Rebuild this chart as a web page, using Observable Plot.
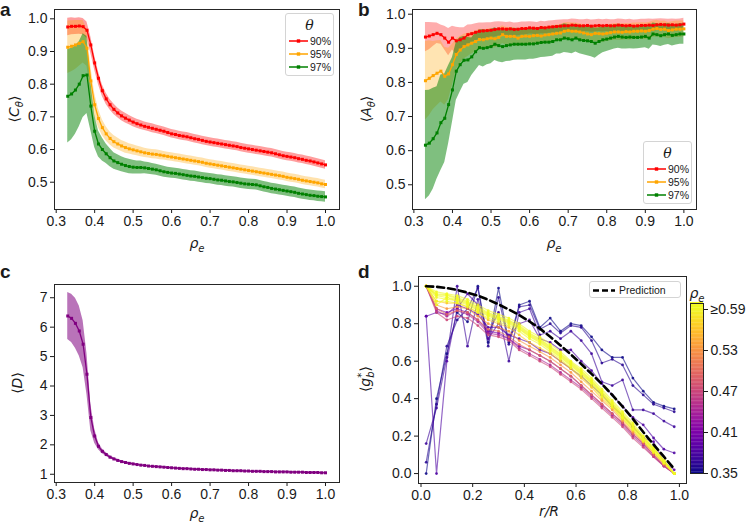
<!DOCTYPE html>
<html><head><meta charset="utf-8">
<script src="https://cdn.jsdelivr.net/npm/d3@7"></script>
<script src="https://cdn.jsdelivr.net/npm/@observablehq/plot@0.6"></script>
<style>
body{margin:0;background:#fff;}
#wrap{position:relative;width:748px;height:524px;overflow:hidden;font-family:"Liberation Sans",Arial,sans-serif;color:#1a1a1a;}
.pl{position:absolute;}
.lbl{position:absolute;font-family:"DejaVu Sans",sans-serif;font-size:14px;white-space:nowrap;transform:translate(-50%,-50%);line-height:1;}
.rot{transform:translate(-50%,-50%) rotate(-90deg);}
.it{font-style:italic;}
.sb{font-size:10px;font-style:italic;position:relative;top:4px;}
.letter{position:absolute;font-weight:bold;font-size:19px;line-height:19px;}
.leg{position:absolute;border:1px solid #d4d4d4;border-radius:3px;background:rgba(255,255,255,0.85);box-sizing:border-box;}
.leg .t{position:absolute;left:0;right:0;text-align:center;font-family:"DejaVu Serif",serif;font-style:italic;font-size:14px;line-height:1;}
.leg .row{position:absolute;left:2px;height:10px;font-size:10.5px;line-height:10px;white-space:nowrap;}
.leg svg{position:absolute;left:0;top:0;}
.leg .row span{position:absolute;left:22px;top:0;}
</style></head>
<body><div id="wrap"></div>
<script>
// ---------------- data ----------------
const rho = [0.33,0.34,0.35,0.36,0.37,0.38,0.39,0.40,0.41,0.42,0.43,0.44,0.45,0.46,0.47,0.48,0.49,0.50,0.51,0.52,
0.53,0.54,0.55,0.56,0.57,0.58,0.59,0.60,0.61,0.62,0.63,0.64,0.65,0.66,0.67,0.68,0.69,0.70,0.71,0.72,
0.73,0.74,0.75,0.76,0.77,0.78,0.79,0.80,0.81,0.82,0.83,0.84,0.85,0.86,0.87,0.88,0.89,0.90,0.91,0.92,
0.93,0.94,0.95,0.96,0.97,0.98,0.99,1.00];
const thetaLabels = ["90%","95%","97%"];

// panel a: <C_theta>
const C90 = [0.975,0.977,0.977,0.978,0.976,0.965,0.920,0.865,0.818,0.780,
0.755,0.737,0.723,0.712,0.703,0.696,0.690,0.684,0.679,0.675,
0.671,0.668,0.665,0.662,0.659,0.656,0.652,0.648,0.646,0.643,
0.641,0.639,0.636,0.633,0.631,0.628,0.625,0.623,0.621,0.619,
0.617,0.615,0.613,0.611,0.609,0.606,0.604,0.602,0.600,0.598,
0.596,0.594,0.592,0.590,0.587,0.584,0.581,0.579,0.577,0.575,
0.572,0.570,0.567,0.565,0.562,0.559,0.556,0.553];
const C90sd = [0.027,0.026,0.025,0.025,0.025,0.025,0.025,0.022,0.020,0.018,
0.017,0.016,0.016,0.015,0.015,0.015,0.014,0.014,0.014,0.014,
0.013,0.013,0.014,0.013,0.013,0.013,0.013,0.013,0.013,0.013,
0.013,0.013,0.013,0.013,0.013,0.013,0.013,0.013,0.013,0.013,
0.013,0.013,0.013,0.013,0.013,0.013,0.013,0.013,0.013,0.013,
0.013,0.013,0.013,0.013,0.013,0.013,0.013,0.013,0.013,0.013,
0.013,0.013,0.013,0.013,0.013,0.013,0.013,0.013];
const C95 = [0.913,0.916,0.920,0.925,0.930,0.910,0.810,0.737,0.695,0.667,
0.648,0.634,0.624,0.617,0.611,0.606,0.602,0.599,0.596,0.593,
0.590,0.588,0.586,0.585,0.583,0.581,0.579,0.577,0.575,0.573,
0.571,0.569,0.567,0.565,0.563,0.561,0.558,0.556,0.554,0.552,
0.550,0.548,0.546,0.544,0.542,0.540,0.538,0.536,0.534,0.532,
0.530,0.528,0.526,0.524,0.522,0.520,0.518,0.515,0.513,0.511,
0.509,0.506,0.504,0.502,0.500,0.498,0.495,0.493];
const C95sd = [0.080,0.078,0.075,0.070,0.065,0.055,0.045,0.035,0.028,0.024,
0.022,0.020,0.019,0.018,0.017,0.017,0.016,0.016,0.015,0.015,
0.014,0.014,0.014,0.014,0.014,0.013,0.013,0.013,0.013,0.013,
0.013,0.013,0.013,0.013,0.013,0.013,0.013,0.013,0.013,0.013,
0.013,0.013,0.013,0.013,0.013,0.013,0.013,0.013,0.013,0.013,
0.013,0.013,0.013,0.013,0.013,0.013,0.013,0.013,0.013,0.013,
0.013,0.013,0.013,0.013,0.013,0.013,0.013,0.013];
const C97 = [0.763,0.770,0.782,0.800,0.826,0.828,0.733,0.656,0.617,0.600,
0.587,0.575,0.565,0.560,0.555,0.551,0.548,0.546,0.545,0.545,
0.544,0.542,0.540,0.538,0.535,0.532,0.530,0.528,0.527,0.525,
0.523,0.521,0.519,0.518,0.516,0.514,0.512,0.511,0.509,0.507,
0.506,0.504,0.502,0.501,0.499,0.497,0.495,0.494,0.493,0.492,
0.489,0.486,0.484,0.481,0.479,0.477,0.475,0.473,0.471,0.469,
0.466,0.464,0.462,0.460,0.459,0.457,0.456,0.455];
const C97sd = [0.143,0.140,0.135,0.130,0.128,0.118,0.075,0.050,0.040,0.035,
0.030,0.028,0.025,0.024,0.023,0.022,0.022,0.021,0.020,0.020,
0.018,0.018,0.017,0.017,0.017,0.017,0.016,0.016,0.016,0.016,
0.016,0.016,0.016,0.016,0.016,0.016,0.016,0.016,0.016,0.016,
0.016,0.016,0.016,0.016,0.016,0.016,0.016,0.016,0.016,0.016,
0.016,0.016,0.016,0.016,0.016,0.016,0.016,0.016,0.016,0.016,
0.016,0.016,0.016,0.016,0.016,0.016,0.016,0.016];

// panel b: <A_theta>
const A90 = [0.933,0.936,0.940,0.944,0.940,0.930,0.918,0.930,0.922,0.925,
0.930,0.940,0.943,0.947,0.950,0.951,0.952,0.953,0.955,0.957,
0.957,0.956,0.957,0.955,0.956,0.958,0.958,0.960,0.959,0.958,
0.961,0.960,0.962,0.963,0.964,0.965,0.966,0.966,0.968,0.967,
0.966,0.966,0.967,0.965,0.966,0.967,0.966,0.967,0.966,0.966,
0.968,0.967,0.966,0.967,0.965,0.966,0.967,0.967,0.968,0.967,
0.969,0.970,0.969,0.968,0.969,0.968,0.969,0.971];
const A90sd = [0.043,0.040,0.035,0.030,0.028,0.035,0.040,0.035,0.040,0.035,
0.030,0.028,0.026,0.025,0.024,0.023,0.023,0.022,0.022,0.021,
0.020,0.020,0.020,0.019,0.019,0.019,0.019,0.018,0.018,0.018,
0.018,0.018,0.018,0.018,0.018,0.018,0.018,0.018,0.018,0.018,
0.018,0.018,0.018,0.018,0.018,0.018,0.018,0.018,0.018,0.018,
0.018,0.018,0.018,0.018,0.018,0.018,0.018,0.018,0.018,0.018,
0.017,0.017,0.017,0.017,0.017,0.017,0.017,0.017];
const A95 = [0.805,0.812,0.820,0.827,0.833,0.818,0.825,0.852,0.882,0.895,
0.905,0.910,0.915,0.920,0.926,0.925,0.928,0.930,0.928,0.932,
0.940,0.935,0.935,0.935,0.930,0.935,0.936,0.935,0.937,0.938,
0.936,0.939,0.940,0.942,0.944,0.945,0.950,0.952,0.950,0.950,
0.948,0.945,0.942,0.940,0.944,0.943,0.942,0.944,0.946,0.948,
0.948,0.947,0.949,0.948,0.950,0.950,0.951,0.950,0.952,0.956,
0.958,0.955,0.956,0.952,0.954,0.956,0.956,0.957];
const A95sd = [0.115,0.110,0.100,0.095,0.090,0.085,0.075,0.060,0.045,0.040,
0.036,0.034,0.032,0.030,0.030,0.029,0.028,0.028,0.027,0.027,
0.026,0.026,0.026,0.025,0.025,0.025,0.025,0.024,0.024,0.024,
0.024,0.024,0.024,0.024,0.024,0.024,0.024,0.024,0.024,0.024,
0.024,0.024,0.024,0.024,0.024,0.024,0.024,0.024,0.024,0.024,
0.024,0.024,0.024,0.024,0.024,0.024,0.024,0.024,0.024,0.024,
0.024,0.024,0.024,0.024,0.024,0.024,0.024,0.024];
const A97 = [0.616,0.622,0.635,0.652,0.682,0.695,0.735,0.778,0.833,0.852,
0.865,0.866,0.875,0.890,0.902,0.900,0.902,0.905,0.912,0.908,
0.905,0.908,0.910,0.912,0.912,0.912,0.912,0.913,0.913,0.915,
0.917,0.918,0.918,0.920,0.925,0.925,0.930,0.928,0.925,0.930,
0.925,0.923,0.922,0.920,0.915,0.920,0.925,0.927,0.930,0.933,
0.935,0.933,0.932,0.933,0.932,0.932,0.933,0.935,0.930,0.942,
0.940,0.937,0.940,0.942,0.938,0.940,0.942,0.942];
const A97sd = [0.160,0.155,0.148,0.135,0.140,0.130,0.115,0.095,0.085,0.080,
0.070,0.066,0.055,0.055,0.052,0.055,0.050,0.050,0.048,0.048,
0.047,0.047,0.048,0.047,0.046,0.046,0.046,0.045,0.045,0.045,
0.044,0.044,0.043,0.043,0.042,0.042,0.042,0.042,0.041,0.041,
0.041,0.042,0.044,0.045,0.044,0.040,0.038,0.036,0.036,0.035,
0.035,0.035,0.034,0.034,0.034,0.033,0.033,0.033,0.033,0.032,
0.032,0.032,0.031,0.031,0.031,0.030,0.030,0.030];

// panel c: <D>
const Dmean = [6.38,6.30,6.13,5.87,5.42,4.40,2.93,2.30,1.95,1.78,
1.67,1.58,1.52,1.47,1.43,1.40,1.37,1.35,1.33,1.31,
1.30,1.28,1.27,1.26,1.25,1.24,1.23,1.22,1.21,1.20,
1.19,1.19,1.18,1.17,1.17,1.16,1.16,1.15,1.15,1.14,
1.14,1.13,1.13,1.12,1.12,1.12,1.11,1.11,1.10,1.10,
1.10,1.09,1.09,1.09,1.08,1.08,1.08,1.08,1.07,1.07,
1.07,1.07,1.06,1.06,1.06,1.06,1.05,1.05];
const Dsd = [0.80,0.82,0.85,0.85,0.80,0.70,0.45,0.25,0.12,0.08,
0.06,0.05,0.04,0.04,0.03,0.03,0.03,0.03,0.02,0.02,
0.02,0.02,0.02,0.02,0.02,0.02,0.02,0.02,0.02,0.02,
0.02,0.02,0.02,0.02,0.02,0.02,0.02,0.02,0.02,0.02,
0.02,0.02,0.02,0.02,0.02,0.02,0.02,0.02,0.02,0.02,
0.02,0.02,0.02,0.02,0.02,0.02,0.02,0.02,0.02,0.02,
0.02,0.02,0.02,0.02,0.02,0.02,0.02,0.02];

// panel d: <g_b*> vs r/R
const rR = [0.02,0.06,0.10,0.14,0.18,0.22,0.26,0.30,0.34,0.38,0.42,0.46,0.50,0.54,0.58,0.62,0.66,0.70,0.74,0.78,0.82,0.86,0.90,0.94,0.98];
const prediction = [1.000,0.997,0.990,0.980,0.966,0.950,0.928,0.903,0.876,0.846,0.812,0.774,0.730,0.684,0.636,0.585,0.532,0.478,0.420,0.358,0.292,0.222,0.155,0.090,0.025];
const gbRho = [0.35,0.36,0.37,0.38,0.39,0.41,0.44,0.47,0.50,0.53,0.56,0.59,0.62,0.66,0.72,0.80,0.90,1.00];
const g035 = [0.00,0.40,0.64,0.86,0.81,1.00,0.70,0.99,0.70,0.90,0.92,0.78,0.83,0.76,0.80,0.79,0.73,0.66,0.62,0.62,0.51,0.44,0.38,0.36,0.345];
const g036 = [0.06,0.37,0.68,0.82,0.88,0.99,0.68,0.94,0.69,0.89,0.90,0.77,0.80,0.75,0.79,0.78,0.71,0.59,0.61,0.58,0.47,0.42,0.37,0.35,0.33];
const g037 = [0.16,0.35,0.62,1.00,0.68,0.93,0.75,0.86,0.60,0.86,0.88,0.74,0.76,0.72,0.76,0.71,0.64,0.49,0.47,0.50,0.34,0.34,0.32,0.28,0.25];
const g038 = [0.84,0.00,0.60,0.88,0.96,0.90,0.72,0.80,0.73,0.80,0.82,0.72,0.70,0.66,0.66,0.60,0.55,0.48,0.42,0.36,0.30,0.26,0.19,0.13,0.11];
const g039 = [0.84,0.86,0.85,0.90,0.88,0.85,0.78,0.78,0.74,0.72,0.70,0.66,0.64,0.60,0.56,0.52,0.47,0.42,0.36,0.31,0.25,0.19,0.17,0.06,0.02];
const g041 = [1.00,0.88,0.86,0.88,0.86,0.82,0.76,0.75,0.72,0.68,0.66,0.63,0.60,0.56,0.52,0.47,0.42,0.37,0.32,0.27,0.21,0.16,0.10,0.04,0.00];
const g044 = [1.00,0.87,0.84,0.87,0.85,0.81,0.75,0.74,0.72,0.67,0.64,0.61,0.58,0.54,0.50,0.46,0.41,0.36,0.31,0.26,0.20,0.15,0.09,0.04,0.00];
const g047 = [1.00,0.86,0.82,0.84,0.83,0.79,0.74,0.73,0.71,0.66,0.63,0.60,0.57,0.53,0.49,0.45,0.40,0.35,0.30,0.25,0.19,0.14,0.09,0.04,0.00];
const g050 = [1.00,0.88,0.85,0.87,0.86,0.82,0.77,0.76,0.73,0.69,0.66,0.63,0.60,0.56,0.52,0.47,0.42,0.37,0.32,0.27,0.21,0.16,0.10,0.05,0.00];
const g053 = [1.00,0.90,0.88,0.89,0.88,0.84,0.80,0.78,0.76,0.71,0.68,0.65,0.62,0.58,0.54,0.49,0.44,0.39,0.34,0.28,0.22,0.17,0.11,0.05,0.00];
const g056 = [1.00,0.92,0.91,0.91,0.89,0.86,0.82,0.80,0.78,0.74,0.70,0.67,0.64,0.60,0.56,0.51,0.46,0.40,0.35,0.29,0.23,0.17,0.11,0.06,0.00];
const g059 = [1.00,0.92,0.92,0.91,0.89,0.86,0.83,0.81,0.79,0.76,0.72,0.69,0.65,0.61,0.565,0.52,0.47,0.41,0.355,0.295,0.235,0.175,0.115,0.055,0.00];
const g062 = [1.00,0.90,0.94,0.92,0.90,0.87,0.84,0.82,0.80,0.77,0.73,0.70,0.66,0.62,0.575,0.53,0.48,0.42,0.36,0.30,0.24,0.18,0.12,0.06,0.00];
const g066 = [1.00,0.94,0.93,0.925,0.905,0.875,0.845,0.825,0.805,0.775,0.735,0.705,0.665,0.625,0.58,0.535,0.485,0.425,0.365,0.305,0.245,0.185,0.125,0.065,0.00];
const g072 = [1.00,0.95,0.94,0.93,0.91,0.88,0.85,0.83,0.81,0.78,0.74,0.71,0.67,0.63,0.585,0.54,0.49,0.43,0.37,0.31,0.25,0.19,0.13,0.07,0.00];
const g080 = [1.00,0.955,0.95,0.935,0.915,0.885,0.855,0.835,0.815,0.785,0.745,0.715,0.675,0.635,0.59,0.545,0.495,0.435,0.375,0.315,0.255,0.19,0.13,0.07,0.00];
const g090 = [1.00,0.96,0.955,0.94,0.92,0.89,0.86,0.84,0.82,0.79,0.75,0.72,0.68,0.64,0.595,0.55,0.50,0.44,0.38,0.32,0.26,0.20,0.135,0.07,0.00];
const g100 = [1.00,0.97,0.96,0.95,0.93,0.90,0.87,0.85,0.83,0.80,0.76,0.73,0.69,0.65,0.60,0.56,0.51,0.45,0.39,0.33,0.27,0.20,0.14,0.07,0.00];
const gbSeries = [g035,g036,g037,g038,g039,g041,g044,g047,g050,g053,g056,g059,g062,g066,g072,g080,g090,g100];
const cbTicks = [0.35,0.41,0.47,0.53,0.59];

// ---------------- drawing ----------------
const wrap = document.getElementById("wrap");
const FONT = '"Liberation Sans", Arial, sans-serif';
const colors = ["red","orange","green"];
const style = {fontSize:"14px", fontFamily:FONT, color:"#1a1a1a", background:"transparent", overflow:"visible"};

function place(el, left, top) {
  el.classList.add("pl");
  el.style.left = left + "px"; el.style.top = top + "px";
  wrap.appendChild(el);
}
function axes(xt, yt, xf, yf) {
  return [
    Plot.axisX(xt, {tickFormat: xf, tickSize: 4, tickPadding: 3, fontSize: 14, label: null}),
    Plot.axisY(yt, {tickFormat: yf, tickSize: 4, tickPadding: 3, fontSize: 14, label: null}),
    Plot.frame({stroke: "#262626", strokeWidth: 1})
  ];
}
const rows = (m, s) => rho.map((x, i) => ({x, m: m[i], lo: m[i] - s[i], hi: m[i] + s[i]}));
const xt = [0.3,0.4,0.5,0.6,0.7,0.8,0.9,1.0];

function bandPlot(series, opac, opts) {
  const data = series.map(([m, s]) => rows(m, s));
  return Plot.plot({
    width: 374, height: 262, ...opts.margins,
    style,
    x: {domain: opts.xd}, y: {domain: opts.yd},
    marks: [
      ...data.map((d, k) => Plot.areaY(d, {x: "x", y1: "lo", y2: "hi", fill: opts.colors[k], fillOpacity: opac[k]})),
      ...data.map((d, k) => Plot.line(d, {x: "x", y: "m", stroke: opts.colors[k], strokeWidth: 1.3})),
      ...data.map((d, k) => Plot.dot(d, {x: "x", y: "m", fill: opts.colors[k], r: 1.7, symbol: "square"})),
      ...axes(xt, opts.yt, d3.format(".1f"), opts.yf)
    ]
  });
}

// panel a
place(bandPlot([[C90,C90sd],[C95,C95sd],[C97,C97sd]], [0.38,0.32,0.5], {
  margins: {marginLeft: 54, marginRight: 35, marginTop: 9, marginBottom: 53},
  xd: [0.2956, 1.0364], yd: [0.4165, 1.0285], colors,
  yt: [0.5,0.6,0.7,0.8,0.9,1.0], yf: d3.format(".1f")
}), 0, 0);

// panel b
place(bandPlot([[A90,A90sd],[A95,A95sd],[A97,A97sd]], [0.32,0.3,0.5], {
  margins: {marginLeft: 38, marginRight: 52, marginTop: 9, marginBottom: 53},
  xd: [0.2964, 1.0327], yd: [0.4275, 1.0138], colors,
  yt: [0.5,0.6,0.7,0.8,0.9,1.0], yf: d3.format(".1f")
}), 374, 0);

// panel c
place(bandPlot([[Dmean,Dsd]], [0.55], {
  margins: {marginLeft: 54, marginRight: 35, marginTop: 22, marginBottom: 42},
  xd: [0.2956, 1.0364], yd: [0.72, 7.45], colors: ["purple"],
  yt: [1,2,3,4,5,6,7], yf: d3.format("d")
}), 0, 262);

// panel d
const gbRows = gbSeries.flatMap((arr, k) => arr.map((g, i) => ({r: rR[i], g, rho: gbRho[k], c: Math.min(gbRho[k], 0.59)})));
const predRows = rR.map((r, i) => ({r, g: prediction[i]}));
const colorScale = {type: "linear", scheme: "plasma", domain: [0.35, 0.59]};
place(Plot.plot({
  width: 374, height: 262, marginLeft: 44, marginRight: 62, marginTop: 14, marginBottom: 41,
  style,
  x: {domain: [-0.0097, 1.0275]}, y: {domain: [-0.053, 1.052]},
  color: colorScale,
  marks: [
    Plot.line(gbRows, {x: "r", y: "g", z: "rho", stroke: "c", strokeOpacity: 0.6, strokeWidth: 1.2}),
    Plot.dot(gbRows, {x: "r", y: "g", fill: "c", r: 1.4, fillOpacity: 0.85}),
    Plot.line(predRows, {x: "r", y: "g", stroke: "black", strokeWidth: 2.6, strokeDasharray: "7,4"}),
    ...axes([0,0.2,0.4,0.6,0.8,1.0], [0,0.2,0.4,0.6,0.8,1.0], d3.format(".1f"), d3.format(".1f"))
  ]
}), 374, 262);

// colorbar
const step = 0.002;
const cbSteps = d3.range(0.35, 0.5988, step);
place(Plot.plot({
  width: 60, height: 190, marginLeft: 0, marginRight: 47, marginTop: 10, marginBottom: 10,
  style,
  x: {domain: [0, 1], axis: null}, y: {domain: [0.35, 0.5988]},
  color: {...colorScale, clamp: true},
  marks: [
    Plot.rect(cbSteps, {x1: () => 0, x2: () => 1, y1: d => d, y2: d => d + step * 1.2, fill: d => d}),
    Plot.frame({stroke: "#262626", strokeWidth: 1}),
    Plot.axisY(cbTicks, {anchor: "right", tickSize: 4, tickPadding: 3, fontSize: 14, label: null,
      tickFormat: d => d === 0.59 ? "≥0.59" : d.toFixed(2)})
  ]
}), 689.7, 292.7);

// ---------------- text overlays ----------------
function html(s) { const d = document.createElement("div"); d.innerHTML = s; return d.firstElementChild; }
const add = s => wrap.appendChild(html(s));
const rhoE = '<span class="it">ρ</span><span class="sb">e</span>';
add(`<div class="letter" style="left:0px;top:0px">a</div>`);
add(`<div class="letter" style="left:358px;top:0px">b</div>`);
add(`<div class="letter" style="left:0px;top:262px">c</div>`);
add(`<div class="letter" style="left:358px;top:262px">d</div>`);
add(`<div class="lbl" style="left:197px;top:243px">${rhoE}</div>`);
add(`<div class="lbl" style="left:554px;top:243px">${rhoE}</div>`);
add(`<div class="lbl" style="left:197px;top:513px">${rhoE}</div>`);
add(`<div class="lbl it" style="left:549px;top:511px">r/R</div>`);
add(`<div class="lbl rot" style="left:14px;top:109px">⟨<span class="it">C</span><span class="sb">θ</span>⟩</div>`);
add(`<div class="lbl rot" style="left:366px;top:109px">⟨<span class="it">A</span><span class="sb">θ</span>⟩</div>`);
add(`<div class="lbl rot" style="left:17px;top:383px">⟨<span class="it">D</span>⟩</div>`);
add(`<div class="lbl rot" style="left:366px;top:379px">⟨<span class="it">g</span><span style="display:inline-block;vertical-align:middle;font-size:10px;line-height:9px;font-style:italic"><span style="display:block">*</span><span style="display:block">b</span></span>⟩</div>`);
add(`<div class="lbl" style="left:697px;top:293px">${rhoE}</div>`);

function thetaLegend(left, top) {
  let s = `<div class="leg" style="left:${left}px;top:${top}px;width:49px;height:63px"><div class="t" style="top:4px">θ</div>`;
  thetaLabels.forEach((t, k) => {
    const y = [22, 35, 48][k];
    s += `<div class="row" style="top:${y}px;width:46px"><svg width="22" height="10"><line x1="1" y1="5" x2="20" y2="5" stroke="${colors[k]}" stroke-width="1.5"/><rect x="8.8" y="3.3" width="3.4" height="3.4" fill="${colors[k]}"/></svg><span>${t}</span></div>`;
  });
  return s + `</div>`;
}
add(thetaLegend(285, 13));
add(thetaLegend(643, 141));
add(`<div class="leg" style="left:589px;top:281px;width:92px;height:17px"><svg width="30" height="15" style="left:2px;top:1px"><line x1="1" y1="7.5" x2="23" y2="7.5" stroke="black" stroke-width="2.5" stroke-dasharray="6,3"/></svg><span style="position:absolute;left:29px;top:2px;font-size:10.5px;line-height:12px">Prediction</span></div>`);
</script></body></html>
